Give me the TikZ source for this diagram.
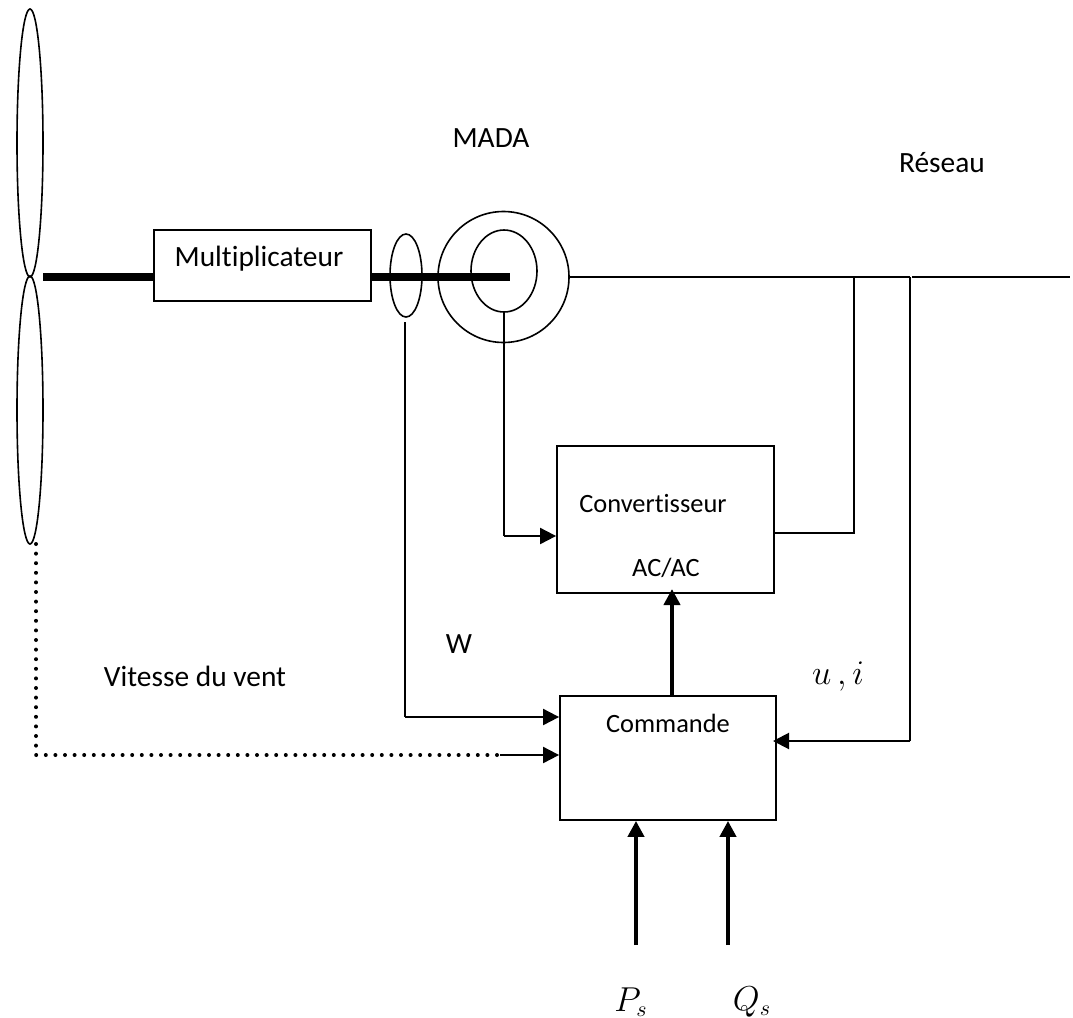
\documentclass[tikz,border=0pt]{standalone}
\usepackage{fontspec}
\setmainfont[Ligatures=NoCommon]{Carlito}
\usepackage{tikz}
\usetikzlibrary{positioning, arrows.meta, calc, shapes.geometric}

\begin{document}
\begin{tikzpicture}[
        x=0.5pt,
        y=-0.5pt,
        font=\fontsize{14.7}{17}\selectfont,
        block/.style={rectangle, draw, line width=0.9pt, inner sep=0pt},
        ring/.style={ellipse, draw, line width=0.8pt, inner sep=0pt},
        label/.style={inner sep=0pt},
        inlabel/.style={inner sep=0pt, font=\fontsize{13.2}{16}\selectfont},
        mathlabel/.style={inner sep=0pt, font=\fontsize{16}{18}\selectfont},
        shaft/.style={draw, line width=4pt},
        wire/.style={draw, line width=0.8pt},
        signal/.style={draw, line width=1pt, -{Triangle[length=8pt, width=8pt]}},
        power/.style={draw, line width=2pt, -{Triangle[length=8pt, width=8pt]}}
    ]
        \useasboundingbox (0,0) rectangle (1073,1018);

        % Blades
        \node[ring, minimum width=13pt, minimum height=134pt] (BladeTop) at (30,143) {};
        \node[ring, minimum width=13pt, minimum height=134pt] (BladeBottom) at (30,410) {};

        % Blocks
        \node[block, minimum width=108.5pt, minimum height=35.5pt] (Multi) at (262.5,265.5) {};
        \node[block, minimum width=108.5pt, minimum height=73.5pt] (Conv) at (665.5,519.5) {};
        \node[block, minimum width=108pt, minimum height=62pt] (Cmd) at (668,758) {};

        % Machine
        \node[ring, minimum width=65.5pt, minimum height=65.5pt] (Stator) at (503.5,277) {};
        \node[ring, minimum width=33pt, minimum height=41pt] (Rotor) at (504,271) {};
        \node[ring, minimum width=16pt, minimum height=41.5pt] (Sensor) at (406,275.5) {};

        % Junctions
        \coordinate (HubLeft) at (43,277);
        \coordinate (ShaftIn) at (Multi.west |- HubLeft);
        \coordinate (ShaftOut) at (Multi.east |- HubLeft);
        \coordinate (ShaftEnd) at (510,277);
        \coordinate (GridStart) at (912,277);
        \coordinate (GridEnd) at (1070,277);
        \coordinate (TapConv) at (854,277);
        \coordinate (TapCmd) at (910,277);
        \coordinate (ConvOut) at (Conv.east |- 0,533);
        \coordinate (ConvIn) at (Conv.west |- 0,536);
        \coordinate (RotorDown) at (504,536);
        \coordinate (SensorTop) at (405,322);
        \coordinate (SpeedCorner) at (405,717);
        \coordinate (SpeedIn) at (Cmd.west |- SpeedCorner);
        \coordinate (WindTop) at (36,544);
        \coordinate (WindCorner) at (36,755);
        \coordinate (WindEnd) at (500,755);
        \coordinate (WindIn) at (Cmd.west |- WindEnd);
        \coordinate (CmdRight) at (910,741);
        \coordinate (CmdIn) at (773,741);
        \coordinate (PsStart) at (636,945);
        \coordinate (QsStart) at (728,945);
        \coordinate (CmdUp) at (672,696);
        \coordinate (ConvUp) at (672,589);

        % Shaft
        \draw[shaft] (HubLeft) -- (ShaftIn);
        \draw[shaft] (ShaftOut) -- (ShaftEnd);

        % Grid side
        \draw[wire] (Stator.east) -- (TapCmd);
        \draw[wire] (GridStart) -- (GridEnd);
        \draw[wire] (ConvOut) -- (ConvOut -| TapConv) -- (TapConv);
        \draw[wire] (TapCmd) -- (CmdRight);
        \draw[signal] (CmdRight) -- (CmdIn);

        % Rotor side
        \draw[wire] (Rotor.south) -- (RotorDown);
        \draw[signal] (RotorDown) -- (ConvIn);

        % Measurements
        \draw[wire] (SensorTop) -- (SpeedCorner);
        \draw[signal] (SpeedCorner) -- (SpeedIn);
        \draw[line width=2pt, line cap=round, dash pattern=on 0pt off 4.8pt] (WindTop) -- (WindCorner) -- (WindEnd);
        \draw[signal] (WindEnd) -- (WindIn);

        % Commands
        \draw[power] (CmdUp) -- (ConvUp);
        \draw[power] (PsStart) -- (PsStart |- Cmd.south);
        \draw[power] (QsStart) -- (QsStart |- Cmd.south);

        % Labels
        \node[label] (MultiText) at (259,259) {Multiplicateur};
        \node[inlabel] (ConvText) at (653,504) {Convertisseur};
        \node[inlabel] (AcText) at (666,568) {AC/AC};
        \node[inlabel] (CmdText) at (668,723) {Commande};
        \node[label] (MadaText) at (491,138) {MADA};
        \node[label] (GridText) at (942,163) {Réseau};
        \node[label] (SpeedText) at (459,644) {W};
        \node[label] (WindText) at (195,676) {Vitesse du vent};
        \node[mathlabel] (UiText) at (838,677) {$u\,,i$};
        \node[mathlabel] (PsText) at (631,1002) {$P_s$};
        \node[mathlabel] (QsText) at (752,1002) {$Q_s$};
    \end{tikzpicture}
\end{document}
